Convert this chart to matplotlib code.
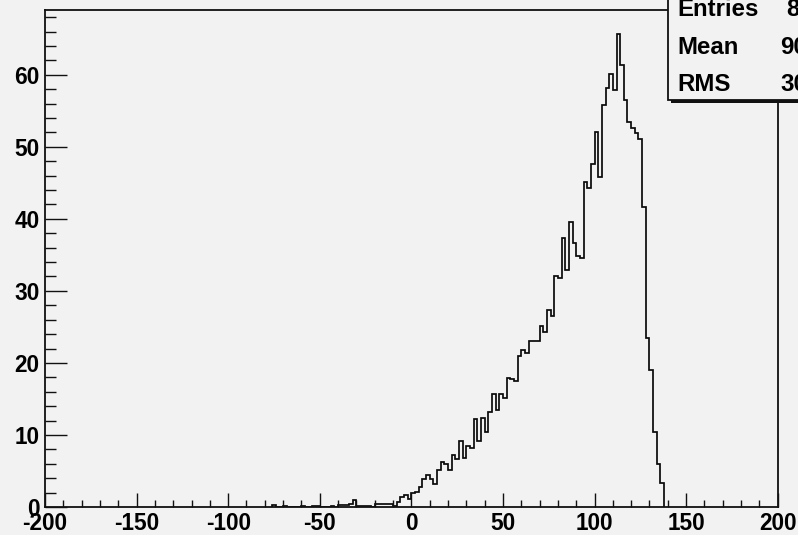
import matplotlib.pyplot as plt
from matplotlib.patches import Rectangle
from matplotlib.ticker import MultipleLocator
import numpy as np

# weighted counts per 2-unit bin, first bin starts at x = -76
first_edge = -76
bin_width = 2
counts = [
    0.3, 0, 0, 0.1, 0, 0, 0, 0, 0.15, 0,            # -76 .. -58
    0, 0.15, 0.15, 0, 0, 0, 0.1, 0, 0.3, 0.3,       # -56 .. -38
    0.3, 0.45, 1.0, 0.2, 0.15, 0.15, 0.15, 0, 0.35, 0.35,  # -36 .. -18
    0.35, 0.35, 0.35, 0.2, 0.7, 1.35, 1.7, 1.1,     # -16 .. -2
    1.9, 2.1, 2.8, 3.9, 4.5, 3.9, 3.2, 5.2, 6.2, 5.9,      # 0 .. 18
    5.1, 7.2, 6.7, 9.1, 6.8, 8.4, 8.2, 12.2, 9.1, 12.4,    # 20 .. 38
    10.4, 13.2, 15.7, 13.4, 15.7, 15.1, 17.9, 17.7, 17.5, 21.0,  # 40 .. 58
    21.8, 21.4, 23.0, 23.0, 23.0, 25.1, 24.3, 27.4, 26.5, 32.0,  # 60 .. 78
    31.8, 37.4, 32.9, 39.6, 36.6, 34.8, 34.6, 45.1, 44.3, 47.6,  # 80 .. 98
    52.0, 45.8, 55.8, 58.1, 60.1, 57.9, 65.7, 61.3, 56.5, 53.5,  # 100 .. 118
    52.6, 51.9, 51.1, 41.7, 23.4, 19.0, 10.4, 6.0, 3.3,         # 120 .. 136
]

x_min, x_max = -200, 200
x_ticks = [-200, -150, -100, -50, 0, 50, 100, 150, 200]
y_ticks = [0, 10, 20, 30, 40, 50, 60]

stat_names = ['Entries', 'Mean', 'RMS']
stat_values = ['8412', '90.37', '30.21']

bg = '#f2f2f2'
W, H = 798, 535

plt.rcParams['font.family'] = ['Liberation Sans', 'DejaVu Sans']
plt.rcParams['font.weight'] = 'bold'
plt.rcParams['axes.unicode_minus'] = False

fig = plt.figure(figsize=(W / 100, H / 100), dpi=100, facecolor=bg)
ax = fig.add_axes([45 / W, 1 - 507 / H, (777.7 - 45) / W, (507 - 10) / H])
ax.set_facecolor(bg)

edges = first_edge + bin_width * np.arange(len(counts) + 1)
ax.stairs(counts, edges, color='#0a0a0a', linewidth=1.25)

ax.set_xlim(x_min, x_max)
ax.set_ylim(0, 1.05 * max(counts))
ax.set_xticks(x_ticks)
ax.set_yticks(y_ticks)
ax.xaxis.set_minor_locator(MultipleLocator(10))
ax.yaxis.set_minor_locator(MultipleLocator(2))

ax.tick_params(axis='both', which='both', direction='in', width=1.0,
               color='#111111', labelsize=16.3)
ax.tick_params(axis='y', which='major', length=15.8, pad=4)
ax.tick_params(axis='y', which='minor', length=7.9)
ax.tick_params(axis='x', which='major', length=10, pad=3.5)
ax.tick_params(axis='x', which='minor', length=5)
for lab in ax.get_xticklabels() + ax.get_yticklabels():
    lab.set_fontweight('bold')

for sp in ax.spines.values():
    sp.set_linewidth(1.3)
    sp.set_color('#111111')

# statistics box in the upper right corner, running off the canvas
def fx(px):
    return px / W

def fy(py):
    return 1 - py / H

box_left, box_bottom = 667.7, 100
shadow = Rectangle((fx(box_left + 3), fy(box_bottom + 3)), fx(200), 0.5,
                   transform=fig.transFigure, facecolor='#111111',
                   edgecolor='none', zorder=5)
box = Rectangle((fx(box_left), fy(box_bottom)), fx(200), 0.5,
                transform=fig.transFigure, facecolor=bg,
                edgecolor='#111111', linewidth=1.3, zorder=6)
fig.add_artist(shadow)
fig.add_artist(box)

name_baselines = [16.5, 54.5, 91]
value_left = [786, 780, 780]
for name, val, yb, xv in zip(stat_names, stat_values, name_baselines, value_left):
    fig.text(fx(677.3), fy(yb), name, fontsize=17.3, fontweight='bold',
             ha='left', va='baseline', zorder=7)
    fig.text(fx(xv), fy(yb), val, fontsize=17.3, fontweight='bold',
             ha='left', va='baseline', zorder=7)

fig.savefig('out.png', dpi=100, facecolor=bg)
